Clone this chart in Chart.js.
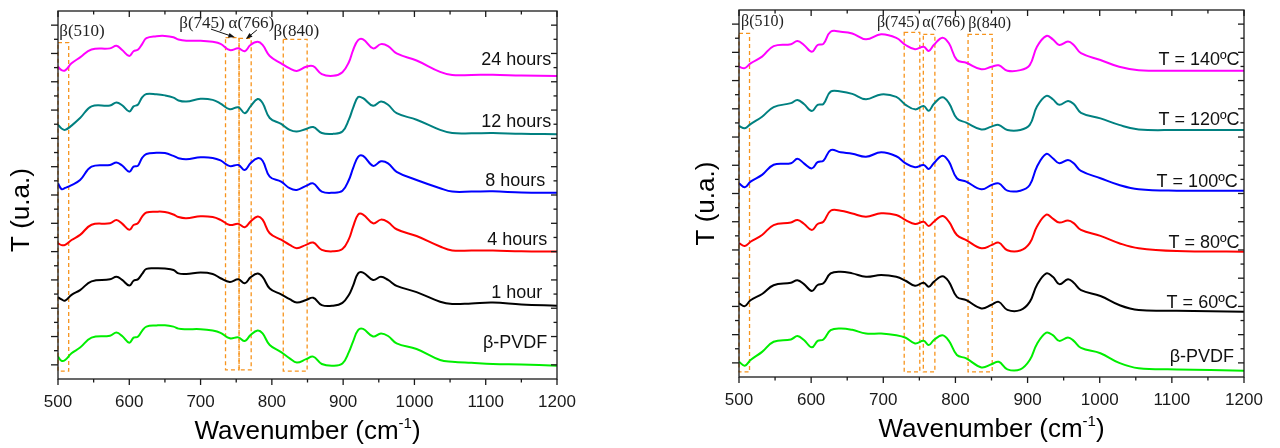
<!DOCTYPE html>
<html>
<head>
<meta charset="utf-8">
<script src="https://cdn.jsdelivr.net/npm/chart.js@4.4.1/dist/chart.umd.min.js"></script>
<style>
    html, body { margin: 0; padding: 0; background: #fff; }
    #wrap { position: relative; width: 1280px; height: 448px; }
    .panel { position: absolute; top: 0; width: 640px; height: 448px; }
    #left { left: 0; }
    #right { left: 640px; }
</style>
</head>
<body>
<div id="wrap">
    <div class="panel" id="left"><canvas id="timeChart"></canvas></div>
    <div class="panel" id="right"><canvas id="tempChart"></canvas></div>
</div>
<script>
// x axis ticks (cm-1)
const xTicks = [500, 600, 700, 800, 900, 1000, 1100, 1200];

// Left panel: spectra vs. exposure time (values above each curve's own baseline, u.a.)
const wavenumA = [500, 505, 510, 519, 531, 547, 573, 582, 590, 600, 606, 612, 618, 624, 638, 650, 662, 669, 680, 700, 717, 728, 741, 753, 762, 770, 780, 787, 797, 813, 825, 835, 848, 858, 870, 886, 899, 908, 914, 921, 928, 942, 953, 963, 975, 1003, 1036, 1053, 1080, 1110, 1150, 1200];
const h24 = [0.33, 0.21, 0.20, 0.45, 0.66, 0.94, 0.98, 1.07, 0.92, 0.71, 0.88, 0.93, 1.13, 1.34, 1.41, 1.42, 1.37, 1.29, 1.25, 1.25, 1.21, 1.14, 0.92, 0.98, 0.88, 1.10, 1.21, 1.10, 0.71, 0.45, 0.27, 0.18, 0.33, 0.35, 0.07, 0.01, 0.14, 0.49, 0.92, 1.27, 1.30, 0.98, 1.13, 1.06, 0.80, 0.55, 0.15, 0.04, 0.04, 0.05, 0.02, 0];
const h12 = [0.33, 0.20, 0.15, 0.30, 0.57, 0.98, 1.01, 1.12, 1.02, 0.80, 0.98, 1.04, 1.30, 1.42, 1.41, 1.37, 1.29, 1.19, 1.15, 1.25, 1.21, 1.08, 0.88, 0.95, 0.74, 0.98, 1.24, 1.10, 0.57, 0.36, 0.15, 0.09, 0.18, 0.25, 0.04, 0.01, 0.09, 0.51, 0.93, 1.31, 1.27, 1.00, 1.15, 1.04, 0.74, 0.51, 0.15, 0.04, 0.03, 0.04, 0.01, 0];
const h8 = [0.33, 0.13, 0.17, 0.27, 0.45, 0.92, 0.98, 1.07, 0.96, 0.74, 0.92, 0.95, 1.23, 1.37, 1.41, 1.40, 1.30, 1.22, 1.18, 1.25, 1.23, 1.14, 0.94, 0.98, 0.80, 1.04, 1.22, 1.13, 0.57, 0.39, 0.16, 0.10, 0.24, 0.33, 0.04, 0.00, 0.07, 0.45, 0.87, 1.27, 1.30, 0.95, 1.11, 1.04, 0.74, 0.45, 0.16, 0.04, 0.04, 0.05, 0.01, 0];
const h4 = [0.30, 0.23, 0.24, 0.41, 0.59, 0.95, 1.00, 1.12, 0.99, 0.77, 0.94, 1.00, 1.24, 1.38, 1.41, 1.40, 1.31, 1.22, 1.18, 1.25, 1.22, 1.12, 0.94, 0.98, 0.86, 1.06, 1.24, 1.13, 0.65, 0.42, 0.24, 0.12, 0.24, 0.32, 0.06, 0.01, 0.09, 0.44, 0.88, 1.31, 1.31, 1.00, 1.13, 1.04, 0.79, 0.55, 0.18, 0.04, 0.04, 0.04, 0.01, 0];
const h1 = [0.30, 0.22, 0.18, 0.38, 0.55, 0.86, 0.93, 1.02, 0.91, 0.71, 0.88, 0.93, 1.12, 1.30, 1.32, 1.31, 1.26, 1.14, 1.12, 1.17, 1.12, 0.97, 0.84, 0.93, 0.79, 1.00, 1.14, 1.02, 0.61, 0.40, 0.23, 0.11, 0.20, 0.28, 0.02, 0.00, 0.10, 0.38, 0.71, 1.14, 1.17, 0.91, 1.02, 0.91, 0.70, 0.48, 0.14, 0.06, 0.08, 0.11, 0.04, 0];
const hPvdfA = [0.32, 0.17, 0.20, 0.44, 0.64, 0.99, 1.06, 1.17, 1.05, 0.81, 0.99, 1.02, 1.23, 1.38, 1.42, 1.43, 1.38, 1.31, 1.29, 1.29, 1.24, 1.16, 0.97, 1.00, 0.87, 1.08, 1.24, 1.14, 0.73, 0.48, 0.26, 0.11, 0.23, 0.32, 0.06, 0.00, 0.08, 0.48, 0.86, 1.26, 1.30, 1.03, 1.14, 1.05, 0.79, 0.59, 0.20, 0.14, 0.10, 0.06, 0.04, 0];
const namesA = ['24 hours', '12 hours', '8 hours', '4 hours', '1 hour', 'β-PVDF'];
const offsetsA = [10.70, 8.65, 6.58, 4.50, 2.59, 0.47];

// Right panel: spectra vs. treatment temperature
const wavenumB = [500, 508, 516, 532, 548, 572, 581, 590, 601, 609, 617, 627, 641, 657, 676, 697, 718, 731, 744, 756, 763, 770, 782, 791, 802, 815, 836, 850, 860, 872, 890, 903, 913, 926, 935, 944, 956, 964, 974, 1001, 1027, 1054, 1107, 1200];
const t140 = [0.14, 0.09, 0.26, 0.50, 0.87, 0.94, 1.05, 0.91, 0.67, 0.91, 0.95, 1.38, 1.38, 1.32, 1.11, 1.29, 1.16, 0.91, 0.76, 0.85, 0.70, 0.91, 1.17, 0.97, 0.38, 0.28, 0.05, 0.14, 0.19, 0, 0.02, 0.20, 0.85, 1.23, 1.11, 0.91, 1.03, 0.91, 0.62, 0.38, 0.14, 0.02, 0, 0];
const t120 = [0.14, 0.06, 0.21, 0.47, 0.81, 0.95, 1.06, 0.92, 0.67, 0.89, 0.92, 1.36, 1.36, 1.28, 1.09, 1.26, 1.17, 0.89, 0.73, 0.85, 0.68, 0.92, 1.16, 0.95, 0.41, 0.26, 0.02, 0.12, 0.18, 0, 0, 0.18, 0.83, 1.21, 1.09, 0.89, 1.03, 0.92, 0.61, 0.41, 0.18, 0.02, 0, 0];
const t100 = [0.26, 0.12, 0.32, 0.56, 0.92, 0.97, 1.13, 0.97, 0.79, 1.01, 1.06, 1.44, 1.36, 1.31, 1.20, 1.36, 1.22, 0.97, 0.83, 0.91, 0.77, 0.97, 1.24, 1.03, 0.44, 0.32, 0.05, 0.20, 0.26, 0, 0, 0.20, 0.85, 1.30, 1.15, 0.97, 1.09, 0.97, 0.70, 0.44, 0.20, 0.05, 0, 0];
const t80 = [0.30, 0.20, 0.35, 0.59, 0.94, 1.03, 1.12, 0.99, 0.77, 0.98, 1.06, 1.45, 1.45, 1.35, 1.24, 1.36, 1.30, 1.12, 0.98, 1.06, 0.91, 1.06, 1.26, 1.06, 0.59, 0.41, 0.12, 0.23, 0.32, 0.05, 0.04, 0.30, 0.89, 1.31, 1.17, 1.03, 1.10, 1.01, 0.77, 0.56, 0.30, 0.12, 0.02, 0];
const t60 = [0.30, 0.20, 0.41, 0.63, 0.94, 1.03, 1.12, 0.98, 0.74, 0.95, 1.01, 1.36, 1.42, 1.36, 1.24, 1.30, 1.24, 1.10, 0.92, 1.03, 0.89, 1.06, 1.26, 1.06, 0.53, 0.41, 0.12, 0.25, 0.35, 0.07, 0.06, 0.35, 0.95, 1.36, 1.24, 0.98, 1.15, 1.03, 0.77, 0.56, 0.24, 0.06, 0.04, 0];
const hPvdfB = [0.32, 0.18, 0.38, 0.67, 1.03, 1.11, 1.23, 1.09, 0.83, 1.06, 1.11, 1.44, 1.50, 1.45, 1.32, 1.32, 1.26, 1.17, 0.97, 1.06, 0.91, 1.09, 1.26, 1.06, 0.56, 0.44, 0.12, 0.23, 0.32, 0.05, 0.05, 0.38, 0.95, 1.35, 1.26, 1.06, 1.18, 1.06, 0.81, 0.62, 0.28, 0.09, 0.05, 0];
const namesB = ['T = 140ºC', 'T = 120ºC', 'T = 100ºC', 'T = 80ºC', 'T = 60ºC', 'β-PVDF'];
const offsetsB = [10.85, 8.75, 6.60, 4.44, 2.31, 0.22];

const lineColors = ['#ff00ff', '#008080', '#0000ff', '#ff0000', '#000000', '#00ee00'];

const SANS = "'Liberation Sans', Arial, sans-serif";
const SERIF = "'Liberation Serif', 'Times New Roman', serif";

function line(ctx, x0, y0, x1, y1) {
    ctx.beginPath();
    ctx.moveTo(x0, y0);
    ctx.lineTo(x1, y1);
    ctx.stroke();
}

// frame, ticks, band boxes, arrows and text labels for one panel
function decor(spec) {
    return {
        id: 'decor',
        beforeDatasetsDraw(chart) {
            const { ctx, scales: { x, y } } = chart;
            ctx.save();
            ctx.strokeStyle = '#f7941d';
            ctx.lineWidth = 1.3;
            ctx.setLineDash([4, 3]);
            spec.bands.forEach(b => {
                const x0 = x.getPixelForValue(b.from), x1 = x.getPixelForValue(b.to);
                const y0 = y.getPixelForValue(b.top), y1 = y.getPixelForValue(b.bottom);
                ctx.strokeRect(x0, y0, x1 - x0, y1 - y0);
            });
            ctx.restore();
        },
        afterDraw(chart) {
            const { ctx, chartArea: a, scales: { x, y } } = chart;
            ctx.save();
            ctx.strokeStyle = '#1a1a1a';
            ctx.lineWidth = 1.3;
            ctx.strokeRect(a.left, a.top, a.right - a.left, a.bottom - a.top);

            // x ticks: out at the bottom, in at the top
            for (let w = xTicks[0]; w <= xTicks[xTicks.length - 1]; w += 50) {
                const px = x.getPixelForValue(w);
                const len = w % 100 === 0 ? 6 : 3.5;
                line(ctx, px, a.bottom, px, a.bottom + len);
                line(ctx, px, a.top, px, a.top + len);
            }
            // y ticks: out on the left, in on the right
            for (let v = 0.5; v < 13; v += 0.5) {
                const py = y.getPixelForValue(v);
                const major = Math.round(v * 2) % 2 === 1;
                line(ctx, a.left - (major ? 7 : 4), py, a.left, py);
                line(ctx, a.right - (major ? 6 : 3.5), py, a.right, py);
            }

            // band labels
            ctx.fillStyle = '#222';
            ctx.textBaseline = 'middle';
            ctx.font = spec.bandFont + 'px ' + SERIF;
            spec.bandText.forEach(t => {
                ctx.textAlign = t.align || 'center';
                ctx.fillText(t.text, x.getPixelForValue(t.x), y.getPixelForValue(t.y));
            });

            // arrows
            ctx.strokeStyle = '#111';
            ctx.fillStyle = '#111';
            ctx.lineWidth = 1;
            spec.arrows.forEach(ar => {
                const x0 = x.getPixelForValue(ar.from[0]), y0 = y.getPixelForValue(ar.from[1]);
                const x1 = x.getPixelForValue(ar.to[0]), y1 = y.getPixelForValue(ar.to[1]);
                const ang = Math.atan2(y1 - y0, x1 - x0);
                line(ctx, x0, y0, x1 - 5 * Math.cos(ang), y1 - 5 * Math.sin(ang));
                ctx.beginPath();
                ctx.moveTo(x1, y1);
                ctx.lineTo(x1 - 7 * Math.cos(ang - 0.35), y1 - 7 * Math.sin(ang - 0.35));
                ctx.lineTo(x1 - 7 * Math.cos(ang + 0.35), y1 - 7 * Math.sin(ang + 0.35));
                ctx.closePath();
                ctx.fill();
            });

            // curve labels
            ctx.fillStyle = '#111';
            ctx.font = '18px ' + SANS;
            ctx.textAlign = 'right';
            spec.curveLabels.forEach((c, i) => {
                ctx.fillText(spec.names[i], x.getPixelForValue(c.x), y.getPixelForValue(c.y));
            });

            // axis titles
            ctx.fillStyle = '#000';
            ctx.font = '26px ' + SANS;
            ctx.save();
            ctx.translate(a.left - spec.yTitleGap, (a.top + a.bottom) / 2 + spec.yTitleShift);
            ctx.rotate(-Math.PI / 2);
            ctx.textAlign = 'center';
            ctx.fillText('T (u.a.)', 0, 0);
            ctx.restore();

            const main = 'Wavenumber (cm', sup = '-1', close = ')';
            ctx.font = '26px ' + SANS;
            const wMain = ctx.measureText(main).width, wClose = ctx.measureText(close).width;
            ctx.font = '15px ' + SANS;
            const wSup = ctx.measureText(sup).width;
            let tx = (a.left + a.right) / 2 - (wMain + wSup + wClose) / 2;
            const ty = spec.xTitleY;
            ctx.textAlign = 'left';
            ctx.textBaseline = 'alphabetic';
            ctx.font = '26px ' + SANS;
            ctx.fillText(main, tx, ty);
            tx += wMain;
            ctx.font = '15px ' + SANS;
            ctx.fillText(sup, tx, ty - 11);
            tx += wSup;
            ctx.font = '26px ' + SANS;
            ctx.fillText(close, tx, ty);
            ctx.restore();
        }
    };
}

function makeChart(canvasId, xs, series, offsets, layout, spec) {
    return new Chart(document.getElementById(canvasId), {
        type: 'line',
        data: {
            datasets: series.map((vals, i) => ({
                label: spec.names[i],
                data: xs.map((w, j) => ({ x: w, y: vals[j] + offsets[i] })),
                borderColor: lineColors[i],
                borderWidth: 2,
                pointRadius: 0,
                fill: false,
                tension: 0.4
            }))
        },
        options: {
            responsive: true,
            maintainAspectRatio: false,
            animation: false,
            layout: { padding: layout.padding },
            plugins: { legend: { display: false }, tooltip: { enabled: false } },
            scales: {
                x: {
                    type: 'linear',
                    min: xTicks[0],
                    max: xTicks[xTicks.length - 1],
                    grid: { display: false, drawTicks: false },
                    border: { display: false },
                    afterBuildTicks: s => { s.ticks = xTicks.map(v => ({ value: v })); },
                    ticks: {
                        padding: 13,
                        color: '#1a1a1a',
                        font: { family: SANS, size: 17 },
                        callback: v => String(v)
                    },
                    afterFit: s => { s.height = layout.xHeight; }
                },
                y: {
                    min: 0,
                    max: 13,
                    grid: { display: false, drawTicks: false },
                    border: { display: false },
                    ticks: { display: false },
                    afterFit: s => { s.width = layout.yWidth; }
                }
            }
        },
        plugins: [decor(spec)]
    });
}

makeChart('timeChart', wavenumA, [h24, h12, h8, h4, h1, hPvdfA], offsetsA,
    { padding: { left: 0, top: 11, right: 83, bottom: 0 }, yWidth: 58, xHeight: 69 },
    {
        names: namesA,
        bands: [
            { from: 500, to: 515, top: 11.88, bottom: 0.28 },
            { from: 735, to: 754, top: 12.06, bottom: 0.32 },
            { from: 754, to: 771, top: 12.03, bottom: 0.32 },
            { from: 816, to: 849.5, top: 12.0, bottom: 0.28 }
        ],
        bandFont: 17,
        bandText: [
            { text: 'β(510)', x: 501.8, y: 12.29, align: 'left' },
            { text: 'β(745)', x: 702, y: 12.54 },
            { text: 'α(766)', x: 771.3, y: 12.54 },
            { text: 'β(840)', x: 834.3, y: 12.29 }
        ],
        arrows: [
            { from: [714.6, 12.36], to: [748.2, 12.07] },
            { from: [779, 12.33], to: [763.6, 12.01] }
        ],
        curveLabels: [
            { x: 1192, y: 11.27 }, { x: 1192, y: 9.09 }, { x: 1183.6, y: 6.99 },
            { x: 1186.4, y: 4.91 }, { x: 1179.4, y: 3.03 }, { x: 1186.4, y: 1.26 }
        ],
        yTitleGap: 36,
        yTitleShift: 15,
        xTitleY: 439
    });

makeChart('tempChart', wavenumB, [t140, t120, t100, t80, t60, hPvdfB], offsetsB,
    { padding: { left: 0, top: 10, right: 36, bottom: 0 }, yWidth: 99, xHeight: 71 },
    {
        names: namesB,
        bands: [
            { from: 500, to: 514.6, top: 12.17, bottom: 0.18 },
            { from: 729, to: 750.6, top: 12.21, bottom: 0.18 },
            { from: 755.5, to: 771.5, top: 12.14, bottom: 0.18 },
            { from: 817.5, to: 851, top: 12.14, bottom: 0.18 }
        ],
        bandFont: 16,
        bandText: [
            { text: 'β(510)', x: 502.8, y: 12.59, align: 'left' },
            { text: 'β(745)', x: 720.8, y: 12.53 },
            { text: 'α(766)', x: 783.9, y: 12.53 },
            { text: 'β(840)', x: 847.5, y: 12.5 }
        ],
        arrows: [],
        curveLabels: [
            { x: 1193.9, y: 11.23 }, { x: 1193.9, y: 9.10 }, { x: 1191.3, y: 6.92 },
            { x: 1193.9, y: 4.74 }, { x: 1191.3, y: 2.61 }, { x: 1186.2, y: 0.72 }
        ],
        yTitleGap: 32,
        yTitleShift: 10,
        xTitleY: 437
    });
</script>
</body>
</html>
